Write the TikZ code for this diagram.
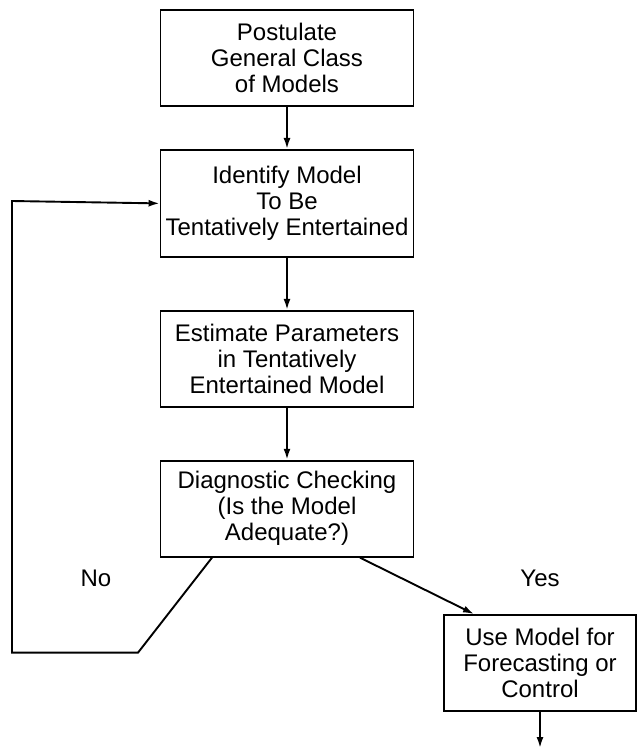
\documentclass[tikz,border=0pt]{standalone}
\usepackage{fontspec}
\setmainfont{Liberation Sans}
\usetikzlibrary{positioning,arrows.meta}

\begin{document}
\begin{tikzpicture}[x=0.5pt, y=-0.5pt, line width=0.95pt,
        box/.style={draw, align=center, minimum width=126.5pt, minimum height=48pt,
                    inner sep=1pt, font=\fontsize{12}{13}\selectfont},
        word/.style={font=\fontsize{12}{13}\selectfont},
        arr/.style={-{Latex[length=5.5pt,width=3.5pt]}}]
    \useasboundingbox (0,0) rectangle (638,750);
                \node[box] (postulate) at (287,58) {Postulate\\General Class\\of Models};
                \node[box, minimum height=53.5pt, below=21pt of postulate] (identify) {Identify Model\\To Be\\Tentatively Entertained};
                \node[box, below=26pt of identify] (estimate) {Estimate Parameters\\in Tentatively\\Entertained Model};
                \node[box, below=26pt of estimate] (diagnose) {Diagnostic Checking\\(Is the Model\\Adequate?)};
                \node[box, minimum width=96pt] (use) at (540,663) {Use Model for\\Forecasting or\\Control};
                \node[word] (no) at (96,578) {No};
                \node[word] (yes) at (540,578) {Yes};
                \coordinate (out) at (540,748);
                \draw[arr] (postulate) -- (identify);
                \draw[arr] (identify) -- (estimate);
                \draw[arr] (estimate) -- (diagnose);
                \draw[arr] ([xshift=36.5pt]diagnose.south) -- ([xshift=-33pt]use.north);
                \draw[arr] ([xshift=-37.5pt]diagnose.south) -- ++(-74,95) -| (12,201) -- (identify.west);
                \draw[arr] (use) -- (out);
            \end{tikzpicture}
\end{document}
